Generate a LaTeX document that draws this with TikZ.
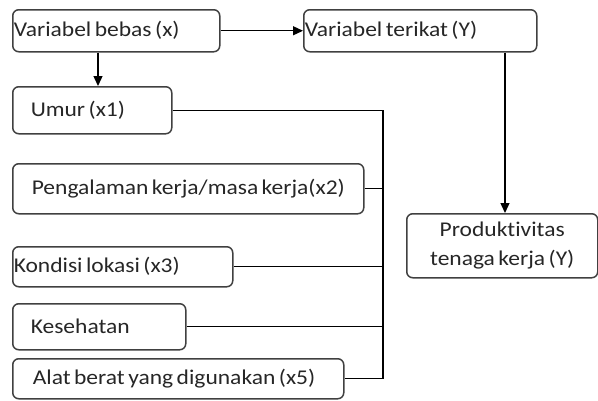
\documentclass[tikz,border=0pt]{standalone}
\usepackage{fontspec}
\setmainfont{Carlito}[Ligatures=NoCommon, WordSpace=0.65, FakeStretch=1.12]
\usetikzlibrary{arrows.meta}
\newcommand\myboxfont{\fontsize{21}{25}\selectfont}
\newcommand\myprodfont{\fontsize{21}{29}\selectfont}
\begin{document}
\begin{tikzpicture}[x=1pt,y=-1pt,
  box/.style={draw=black!75, line width=1.5pt, rounded corners=6pt, anchor=north west,
    inner xsep=0pt, inner ysep=0pt, align=flush left, font=\myboxfont, text=black!85},
  conn/.style={draw=black, line width=1.3pt},
  arr/.style={conn, -{Triangle[length=10pt,width=9pt]}}]
\useasboundingbox (0,0) rectangle (598,400);
\node[box, text width=207pt, minimum height=42pt] (b1) at (12,9) {\hspace*{1pt}Variabel bebas (x)};
\node[box, text width=233pt, minimum height=42pt] (b2) at (303,9) {\hspace*{1pt}Variabel terikat (Y)};
\node[box, text width=159pt, minimum height=47pt] (u) at (12,86) {\hspace*{18pt}Umur (x1)};
\node[box, text width=351pt, minimum height=50pt] (p) at (12,163) {\hspace*{19pt}Pengalaman kerja/masa kerja(x2)};
\node[box, text width=220pt, minimum height=40pt] (k) at (12,246) {\hspace*{1pt}Kondisi lokasi (x3)};
\node[box, text width=173pt, minimum height=46pt] (s) at (12,303) {\hspace*{18pt}Kesehatan};
\node[box, text width=331pt, minimum height=40pt] (a) at (12,358) {\hspace*{20pt}Alat berat yang digunakan (x5)};
\node[box, align=flush center, text width=191pt, minimum height=64pt, font=\myprodfont] (y) at (406,213) {Produktivitas\\tenaga kerja (Y)};
\coordinate (bus) at (383,0);
\coordinate (c1) at (98,0);
\coordinate (c2) at (505,0);
\draw[arr] (b1.east) -- (b2.west);
\draw[arr] (b1.south -| c1) -- (u.north -| c1);
\draw[arr] (b2.south -| c2) -- (y.north -| c2);
\draw[conn] (u.east) -- (u.east -| bus) -- (a.east -| bus) -- (a.east);
\draw[conn] (p.east) -- (p.east -| bus);
\draw[conn] (k.east) -- (k.east -| bus);
\draw[conn] (s.east) -- (s.east -| bus);
\end{tikzpicture}
\end{document}
